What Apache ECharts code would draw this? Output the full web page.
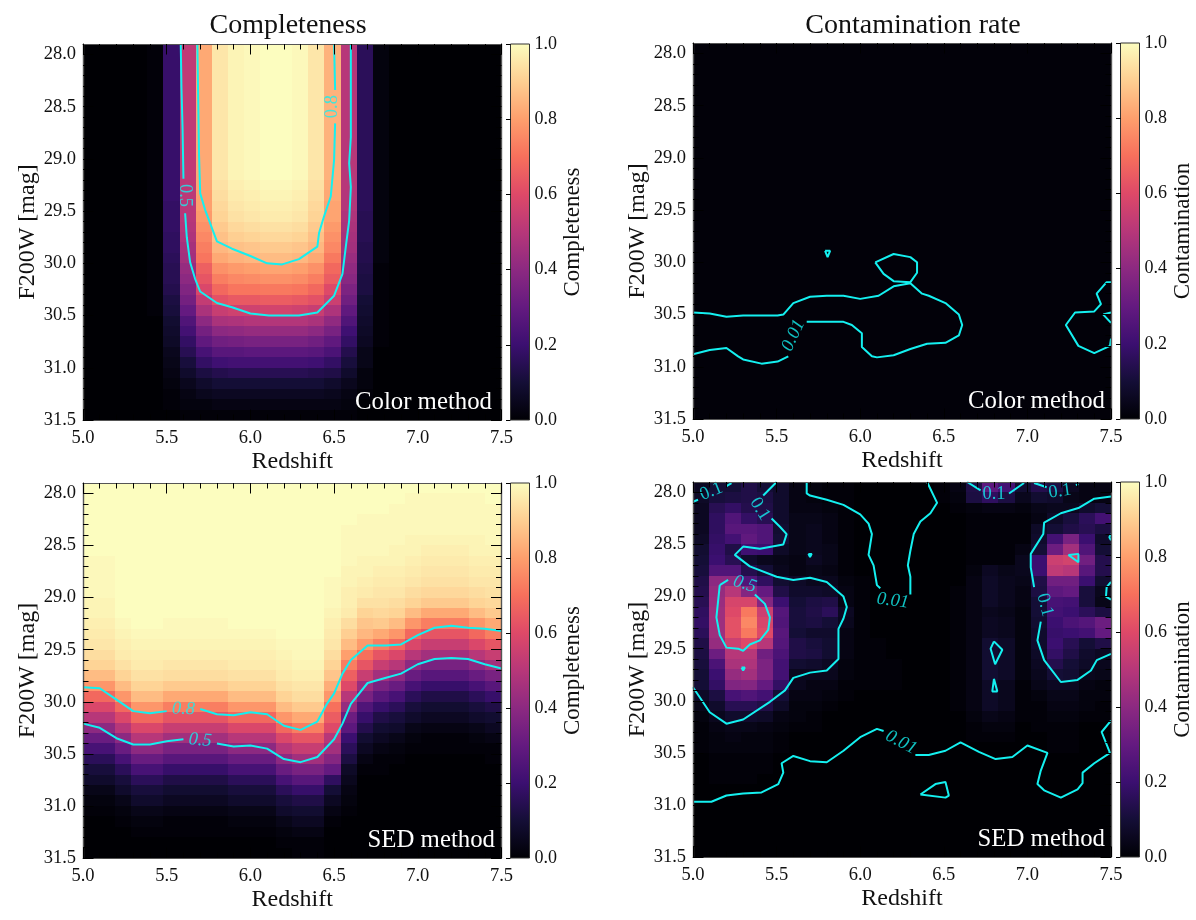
<!DOCTYPE html>
<html>
<head>
<meta charset="utf-8">
<title>Completeness and contamination</title>
<script src="https://cdn.jsdelivr.net/npm/echarts@6/dist/echarts.min.js"></script>
<style>
html, body { margin: 0; background: #fff; }
#chart { width: 1196px; height: 920px; }
</style>
</head>
<body>
<div id="chart"></div>
<script>
// cell centres of the redshift / magnitude grid
const redshiftCells = [5.0,5.1,5.2,5.3,5.4,5.5,5.6,5.7,5.8,5.9,6.0,6.1,6.2,6.3,6.4,6.5,6.6,6.7,6.8,6.9,7.0,7.1,7.2,7.3,7.4,7.5];
const magCells = [27.9,28.0,28.1,28.2,28.3,28.4,28.5,28.6,28.7,28.8,28.9,29.0,29.1,29.2,29.3,29.4,29.5,29.6,29.7,29.8,29.9,30.0,30.1,30.2,30.3,30.4,30.5,30.6,30.7,30.8,30.9,31.0,31.1,31.2,31.3,31.4];
const magMajorTicks = [28.0,28.5,29.0,29.5,30.0,30.5,31.0,31.5];
const magMinorTicks = [28.1,28.2,28.3,28.4,28.6,28.7,28.8,28.9,29.1,29.2,29.3,29.4,29.6,29.7,29.8,29.9,30.1,30.2,30.3,30.4,30.6,30.7,30.8,30.9,31.1,31.2,31.3,31.4];

// percent, one row per magnitude cell (top row first)
const colorCompleteness = [
[0,0,0,0,1,19,52,82,95,98,99,100,100,99,95,84,50,16,2,0,0,0,0,0,0,0],
[0,0,0,0,1,19,52,82,95,98,99,100,100,99,95,84,50,16,2,0,0,0,0,0,0,0],
[0,0,0,0,1,19,52,82,95,98,99,100,100,99,95,84,50,16,2,0,0,0,0,0,0,0],
[0,0,0,0,1,19,52,82,95,98,99,100,100,99,95,84,50,16,2,0,0,0,0,0,0,0],
[0,0,0,0,1,19,52,82,95,98,99,100,100,99,95,84,50,16,2,0,0,0,0,0,0,0],
[0,0,0,0,1,19,52,82,95,98,99,100,100,99,95,84,50,16,2,0,0,0,0,0,0,0],
[0,0,0,0,1,19,52,82,95,98,99,100,100,99,95,84,50,16,2,0,0,0,0,0,0,0],
[0,0,0,0,1,19,52,82,95,98,99,100,100,99,95,84,50,16,2,0,0,0,0,0,0,0],
[0,0,0,0,1,19,52,82,95,98,99,100,100,99,95,84,50,16,2,0,0,0,0,0,0,0],
[0,0,0,0,1,19,52,82,95,98,99,100,100,99,95,84,50,16,2,0,0,0,0,0,0,0],
[0,0,0,0,1,19,52,82,95,98,99,100,100,99,95,84,50,16,2,0,0,0,0,0,0,0],
[0,0,0,0,1,19,52,82,95,98,99,100,100,99,95,84,50,16,2,0,0,0,0,0,0,0],
[0,0,0,0,1,19,52,82,95,98,99,100,100,99,95,84,50,16,2,0,0,0,0,0,0,0],
[0,0,0,0,1,19,51,81,94,97,98,99,99,98,94,83,50,16,2,0,0,0,0,0,0,0],
[0,0,0,0,1,19,51,80,93,96,97,98,98,97,93,82,49,16,2,0,0,0,0,0,0,0],
[0,0,0,0,1,18,50,80,92,95,96,97,97,96,92,81,49,16,2,0,0,0,0,0,0,0],
[0,0,0,0,1,18,50,79,91,94,95,96,96,95,91,81,48,15,2,0,0,0,0,0,0,0],
[0,0,0,0,1,18,49,77,89,92,93,94,94,93,89,79,47,15,2,0,0,0,0,0,0,0],
[0,0,0,0,1,17,48,75,87,90,91,92,92,91,87,77,46,15,2,0,0,0,0,0,0,0],
[0,0,0,0,1,17,46,73,85,87,88,89,89,88,85,75,45,14,2,0,0,0,0,0,0,0],
[0,0,0,0,1,16,45,71,82,84,85,86,86,85,82,72,43,14,2,0,0,0,0,0,0,0],
[0,0,0,0,1,15,42,66,77,79,80,81,81,80,77,68,41,13,1,0,0,0,0,0,0,0],
[0,0,0,0,1,15,40,63,73,75,76,77,77,76,73,65,39,12,1,0,0,0,0,0,0,0],
[0,0,0,0,1,14,37,59,68,71,71,72,72,71,68,60,36,12,1,0,0,0,0,0,0,0],
[0,0,0,0,1,12,34,53,62,64,64,65,65,64,62,55,33,10,1,0,0,0,0,0,0,0],
[0,0,0,0,1,11,30,47,54,56,56,57,57,56,54,48,29,9,1,0,0,0,0,0,0,0],
[0,0,0,0,0,9,25,40,47,48,49,49,49,49,47,41,25,8,1,0,0,0,0,0,0,0],
[0,0,0,0,0,8,22,34,40,41,42,42,42,42,40,35,21,7,1,0,0,0,0,0,0,0],
[0,0,0,0,0,7,18,29,33,34,35,35,35,35,33,29,18,6,1,0,0,0,0,0,0,0],
[0,0,0,0,0,5,15,23,27,27,28,28,28,28,27,24,14,4,0,0,0,0,0,0,0,0],
[0,0,0,0,0,4,11,18,21,22,22,22,22,22,21,18,11,4,0,0,0,0,0,0,0,0],
[0,0,0,0,0,3,8,12,14,15,15,15,15,15,14,13,8,2,0,0,0,0,0,0,0,0],
[0,0,0,0,0,2,5,8,10,10,10,10,10,10,10,8,5,2,0,0,0,0,0,0,0,0],
[0,0,0,0,0,1,3,5,6,6,6,6,6,6,6,5,3,1,0,0,0,0,0,0,0,0],
[0,0,0,0,0,1,2,2,3,3,3,3,3,3,3,3,2,0,0,0,0,0,0,0,0,0],
[0,0,0,0,0,0,1,1,1,1,1,1,1,1,1,1,1,0,0,0,0,0,0,0,0,0]
];

const colorContamination = [
[1,1,1,1,1,1,1,1,1,1,1,1,1,1,1,1,1,1,1,1,1,1,1,1,1,1],
[1,1,1,1,1,1,1,1,1,1,1,1,1,1,1,1,1,1,1,1,1,1,1,1,1,1],
[1,1,1,1,1,1,1,1,1,1,1,1,1,1,1,1,1,1,1,1,1,1,1,1,1,1],
[1,1,1,1,1,1,1,1,1,1,1,1,1,1,1,1,1,1,1,1,1,1,1,1,1,1],
[1,1,1,1,1,1,1,1,1,1,1,1,1,1,1,1,1,1,1,1,1,1,1,1,1,1],
[1,1,1,1,1,1,1,1,1,1,1,1,1,1,1,1,1,1,1,1,1,1,1,1,1,1],
[1,1,1,1,1,1,1,1,1,1,1,1,1,1,1,1,1,1,1,1,1,1,1,1,1,1],
[1,1,1,1,1,1,1,1,1,1,1,1,1,1,1,1,1,1,1,1,1,1,1,1,1,1],
[1,1,1,1,1,1,1,1,1,1,1,1,1,1,1,1,1,1,1,1,1,1,1,1,1,1],
[1,1,1,1,1,1,1,1,1,1,1,1,1,1,1,1,1,1,1,1,1,1,1,1,1,1],
[1,1,1,1,1,1,1,1,1,1,1,1,1,1,1,1,1,1,1,1,1,1,1,1,1,1],
[1,1,1,1,1,1,1,1,1,1,1,1,1,1,1,1,1,1,1,1,1,1,1,1,1,1],
[1,1,1,1,1,1,1,1,1,1,1,1,1,1,1,1,1,1,1,1,1,1,1,1,1,1],
[1,1,1,1,1,1,1,1,1,1,1,1,1,1,1,1,1,1,1,1,1,1,1,1,1,1],
[1,1,1,1,1,1,1,1,1,1,1,1,1,1,1,1,1,1,1,1,1,1,1,1,1,1],
[1,1,1,1,1,1,1,1,1,1,1,1,1,1,1,1,1,1,1,1,1,1,1,1,1,1],
[1,1,1,1,1,1,1,1,1,1,1,1,1,1,1,1,1,1,1,1,1,1,1,1,1,1],
[1,1,1,1,1,1,1,1,1,1,1,1,1,1,1,1,1,1,1,1,1,1,1,1,1,1],
[1,1,1,1,1,1,1,1,1,1,1,1,1,1,1,1,1,1,1,1,1,1,1,1,1,1],
[1,1,1,1,1,1,1,1,1,1,1,1,1,1,1,1,1,1,1,1,1,1,1,1,1,1],
[1,1,1,1,1,1,1,1,1,1,1,1,1,1,1,1,1,1,1,1,1,1,1,1,1,1],
[1,1,1,1,1,1,1,1,1,1,1,1,1,1,1,1,1,1,1,1,1,1,1,1,1,1],
[1,1,1,1,1,1,1,1,1,1,1,1,1,1,1,1,1,1,1,1,1,1,1,1,1,1],
[1,1,1,1,1,1,1,1,1,1,1,1,1,1,1,1,1,1,1,1,1,1,1,1,1,1],
[1,1,1,1,1,1,1,1,1,1,1,1,1,1,1,1,1,1,1,1,1,1,1,1,1,1],
[1,1,1,1,1,1,1,1,1,1,1,1,1,1,1,1,1,1,1,1,1,1,1,1,1,1],
[1,1,1,1,1,1,1,1,1,1,1,1,1,1,1,1,1,1,1,1,1,1,1,1,1,1],
[1,1,1,1,1,1,1,1,1,1,1,1,1,1,1,1,1,1,1,1,1,1,1,1,1,1],
[1,1,1,1,1,1,1,1,1,1,1,1,1,1,1,1,1,1,1,1,1,1,1,1,1,1],
[1,1,1,1,1,1,1,1,1,1,1,1,1,1,1,1,1,1,1,1,1,1,1,1,1,1],
[1,1,1,1,1,1,1,1,1,1,1,1,1,1,1,1,1,1,1,1,1,1,1,1,1,1],
[1,1,1,1,1,1,1,1,1,1,1,1,1,1,1,1,1,1,1,1,1,1,1,1,1,1],
[1,1,1,1,1,1,1,1,1,1,1,1,1,1,1,1,1,1,1,1,1,1,1,1,1,1],
[1,1,1,1,1,1,1,1,1,1,1,1,1,1,1,1,1,1,1,1,1,1,1,1,1,1],
[1,1,1,1,1,1,1,1,1,1,1,1,1,1,1,1,1,1,1,1,1,1,1,1,1,1],
[1,1,1,1,1,1,1,1,1,1,1,1,1,1,1,1,1,1,1,1,1,1,1,1,1,1]
];

// this one is read column by column (one list per redshift cell), top to bottom
const sedCompletenessColumns = [
[100,100,100,100,100,100,100,99,99,99,99,98,98,97,96,95,93,91,86,78,68,59,50,40,31,23,16,11,8,4,2,1,0,0,0,0],
[100,100,100,100,100,100,100,99,99,99,99,98,98,97,96,95,93,91,86,78,68,59,50,40,31,23,16,11,8,4,2,1,0,0,0,0],
[100,100,100,100,100,100,100,100,100,100,100,100,100,99,98,97,96,94,91,86,78,68,59,50,40,31,23,16,11,8,4,2,1,0,0,0],
[100,100,100,100,100,100,100,100,100,100,100,100,100,100,99,98,97,96,94,91,86,78,68,59,50,40,31,23,16,11,8,4,2,1,0,0],
[100,100,100,100,100,100,100,100,100,100,100,100,100,100,99,98,97,96,94,91,86,78,68,59,50,40,31,23,16,11,8,4,2,1,0,0],
[100,100,100,100,100,100,100,100,100,100,100,100,100,99,99,98,97,95,93,89,82,73,63,54,45,35,27,19,13,9,6,3,1,1,0,0],
[100,100,100,100,100,100,100,100,100,100,100,100,100,99,99,98,97,95,93,89,82,73,63,54,45,35,27,19,13,9,6,3,1,1,0,0],
[100,100,100,100,100,100,100,100,100,100,100,100,100,99,99,98,97,95,93,89,82,73,63,54,45,35,27,19,13,9,6,3,1,1,0,0],
[100,100,100,100,100,100,100,100,100,100,100,100,100,99,99,98,97,95,93,89,82,73,63,54,45,35,27,19,13,9,6,3,1,1,0,0],
[100,100,100,100,100,100,100,100,100,100,100,100,100,100,99,98,97,96,94,91,86,78,68,59,50,40,31,23,16,11,8,4,2,1,0,0],
[100,100,100,100,100,100,100,100,100,100,100,100,100,100,99,98,97,96,94,91,86,78,68,59,50,40,31,23,16,11,8,4,2,1,0,0],
[100,100,100,100,100,100,100,100,100,100,100,100,100,100,99,98,97,96,94,91,86,78,68,59,50,40,31,23,16,11,8,4,2,1,0,0],
[100,100,100,100,100,100,100,100,100,100,100,100,100,100,100,99,98,97,96,94,91,86,78,68,59,50,40,31,23,16,11,8,4,2,1,0],
[100,100,100,100,100,100,100,100,100,100,100,100,100,100,100,99,99,98,97,95,93,89,82,73,63,54,45,35,27,19,13,9,6,3,1,1],
[100,100,100,100,100,100,100,100,100,100,100,100,100,100,100,99,99,98,97,95,93,89,82,73,63,54,45,35,27,19,13,9,6,3,1,1],
[100,100,100,100,100,100,100,100,100,99,99,99,98,97,96,95,93,91,88,83,78,70,65,60,50,45,38,30,17,10,6,3,1,0,0,0],
[100,100,100,100,99,99,99,99,98,98,97,97,96,93,90,86,80,73,66,60,50,42,32,28,20,16,12,7,5,3,2,1,0,0,0,0],
[100,100,100,99,99,99,99,98,98,97,96,94,91,88,85,79,70,63,54,43,35,25,19,14,9,6,3,1,0,0,0,0,0,0,0,0],
[100,100,100,99,99,99,99,98,97,96,95,94,92,89,82,73,63,54,45,35,27,19,13,9,6,3,1,1,0,0,0,0,0,0,0,0],
[100,100,99,99,99,99,98,98,97,96,95,93,91,86,78,68,59,50,40,31,23,16,11,8,4,2,1,0,0,0,0,0,0,0,0,0],
[100,99,99,99,99,98,98,97,96,95,93,91,86,78,68,59,50,40,31,23,16,11,8,4,2,1,0,0,0,0,0,0,0,0,0,0],
[100,99,99,99,99,98,97,96,95,94,92,89,82,73,63,54,45,35,27,19,13,9,6,3,1,1,0,0,0,0,0,0,0,0,0,0],
[100,99,99,99,99,98,97,96,95,94,92,89,82,73,63,54,45,35,27,19,13,9,6,3,1,1,0,0,0,0,0,0,0,0,0,0],
[100,99,99,99,99,98,97,96,95,94,92,89,82,73,63,54,45,35,27,19,13,9,6,3,1,1,0,0,0,0,0,0,0,0,0,0],
[100,99,99,99,99,98,98,97,96,95,93,91,86,78,68,59,50,40,31,23,16,11,8,4,2,1,0,0,0,0,0,0,0,0,0,0],
[100,100,99,99,99,99,98,97,96,95,94,92,89,82,73,63,54,45,35,27,19,13,9,6,3,1,1,0,0,0,0,0,0,0,0,0]
];

const sedContamination = [
[6,10,10,13,10,8,3,2,1,1,0,0,0,0,0,1,3,13,28,22,9,14,12,6,3,3],
[7,11,12,13,12,8,3,2,1,1,0,0,0,0,0,1,2,12,17,12,5,9,8,4,3,3],
[6,15,18,14,13,8,3,3,2,1,0,0,0,0,0,0,1,2,3,3,2,4,5,5,8,10],
[6,17,25,18,15,8,4,4,3,1,0,0,0,0,0,0,0,1,1,1,1,3,7,11,16,22],
[6,17,27,27,25,9,4,5,3,1,0,0,0,0,0,0,0,1,1,1,1,7,10,13,15,12],
[7,18,22,29,25,10,4,5,3,1,0,0,0,0,0,0,0,1,1,1,1,8,22,35,20,8],
[9,19,13,21,20,7,4,5,4,1,0,0,0,0,0,0,0,1,1,1,3,10,32,45,25,10],
[10,20,15,8,5,4,3,6,4,1,0,0,0,0,0,0,0,1,1,1,5,20,55,57,33,14],
[11,25,25,14,10,5,3,4,3,1,0,0,0,0,0,0,0,2,6,4,5,20,52,50,27,14],
[13,40,40,25,17,9,7,5,5,2,1,0,0,0,0,0,0,3,7,5,4,13,33,33,20,9],
[14,42,50,38,30,13,8,8,7,3,1,0,0,0,0,0,1,3,7,5,3,12,28,30,11,5],
[15,43,58,58,38,20,10,12,13,3,1,0,0,0,0,0,1,3,7,5,3,10,23,22,11,4],
[17,44,60,72,55,26,11,13,16,6,1,0,0,0,0,0,1,3,5,4,2,10,22,20,16,12],
[18,44,62,75,58,25,11,12,10,5,1,0,0,0,0,0,1,3,6,5,2,9,20,24,26,32],
[16,44,62,72,60,27,10,8,8,3,1,0,0,0,0,0,1,3,6,5,2,8,19,20,22,30],
[13,42,55,60,50,26,13,11,9,3,1,1,0,0,0,0,1,3,9,7,2,8,20,15,10,13],
[12,32,50,50,33,24,13,12,9,3,1,1,0,0,0,0,1,3,9,7,2,7,18,13,8,6],
[11,24,47,48,36,22,9,8,6,2,1,1,1,0,0,0,1,3,9,7,2,6,14,10,7,5],
[10,20,42,45,36,22,5,5,5,2,1,1,1,0,0,0,1,3,9,7,2,5,10,9,5,4],
[10,18,37,38,30,18,5,3,3,1,1,1,1,0,0,0,1,3,7,5,1,4,6,6,3,2],
[7,12,23,25,22,10,3,3,2,1,0,0,0,0,0,0,1,3,7,5,1,2,4,4,2,2],
[4,8,15,15,13,7,2,2,1,0,0,0,0,0,0,0,1,3,7,5,1,1,3,3,2,1],
[2,5,8,8,7,3,2,1,0,0,0,0,0,0,0,0,0,2,4,3,1,1,2,2,1,1],
[1,3,4,4,3,2,1,1,0,0,0,0,0,0,0,0,0,1,2,2,0,1,1,1,0,0],
[1,2,3,2,2,1,0,0,0,0,0,0,0,0,0,0,0,1,1,1,0,0,1,1,0,0],
[1,2,2,2,2,1,0,0,0,0,0,0,0,0,0,0,0,0,0,0,0,0,1,1,0,0],
[0,1,1,1,1,0,0,0,0,0,0,0,0,0,0,0,0,0,0,0,0,0,0,0,0,0],
[0,1,1,1,1,0,0,0,0,0,0,0,0,0,0,0,0,0,0,0,0,0,0,0,0,0],
[0,1,1,1,0,0,0,0,0,0,0,0,0,0,0,0,0,0,0,0,0,0,0,0,0,0],
[0,0,0,0,0,0,0,0,0,0,0,0,0,0,0,0,0,0,0,0,0,0,0,0,0,0],
[0,0,0,0,0,0,0,0,0,0,0,0,0,0,0,0,0,0,0,0,0,0,0,0,0,0],
[0,0,0,0,0,0,0,0,0,0,0,0,0,0,0,0,0,0,0,0,0,0,0,0,0,0],
[0,0,0,0,0,0,0,0,0,0,0,0,0,0,0,0,0,0,0,0,0,0,0,0,0,0],
[0,0,0,0,0,0,0,0,0,0,0,0,0,0,0,0,0,0,0,0,0,0,0,0,0,0],
[0,0,0,0,0,0,0,0,0,0,0,0,0,0,0,0,0,0,0,0,0,0,0,0,0,0],
[0,0,0,0,0,0,0,0,0,0,0,0,0,0,0,0,0,0,0,0,0,0,0,0,0,0]
];

// contour traces [redshift, mag], broken where a label sits
const colorCompletenessContours = [
[[5.584,27.9],[5.588,28.31],[5.595,28.72],[5.60,29.19]],
[[5.61,29.52],[5.62,29.75],[5.64,29.99],[5.67,30.15],[5.70,30.27],[5.80,30.38],[5.89,30.42],[6.0,30.48],[6.11,30.50],[6.29,30.50],[6.40,30.47],[6.50,30.31],[6.55,30.10],[6.57,29.84],[6.59,29.59],[6.60,29.27],[6.59,29.04],[6.60,28.79],[6.60,28.31],[6.60,27.9]],
[[5.683,27.9],[5.687,28.31],[5.693,28.95],[5.70,29.33],[5.73,29.49],[5.80,29.79],[5.89,29.86],[6.0,29.93],[6.10,30.0],[6.19,30.01],[6.29,29.96],[6.40,29.84],[6.41,29.71],[6.44,29.55],[6.48,29.36],[6.50,29.01],[6.506,28.66]],
[[6.506,28.34],[6.50,27.9]]
];
const colorCompletenessLabels = [[5.61,29.35,'0.5'],[6.49,28.5,'0.8']];

const colorContaminationContours = [
[[5.0,30.48],[5.10,30.49],[5.20,30.52],[5.30,30.51],[5.506,30.51],[5.54,30.50],[5.60,30.39],[5.70,30.33],[5.80,30.32],[5.90,30.32],[6.0,30.35],[6.11,30.32],[6.20,30.23],[6.30,30.20],[6.37,30.30],[6.41,30.32],[6.51,30.39],[6.59,30.50],[6.61,30.60],[6.59,30.70],[6.51,30.77],[6.40,30.78],[6.30,30.83],[6.20,30.89],[6.10,30.91],[6.07,30.90],[6.01,30.81],[6.01,30.68],[5.95,30.60],[5.90,30.57],[5.80,30.57],[5.68,30.57]],
[[5.57,30.90],[5.506,30.95],[5.41,30.97],[5.30,30.93],[5.27,30.90],[5.20,30.82],[5.10,30.84],[5.0,30.88]],
[[6.09,30.0],[6.20,29.92],[6.30,29.95],[6.34,30.0],[6.34,30.10],[6.30,30.19],[6.20,30.18],[6.14,30.11],[6.09,30.0]],
[[5.79,29.89],[5.82,29.89],[5.805,29.95],[5.79,29.89]],
[[7.5,30.19],[7.474,30.19],[7.414,30.30],[7.44,30.40],[7.40,30.47],[7.285,30.48],[7.23,30.60],[7.305,30.80],[7.40,30.87],[7.494,30.80],[7.5,30.73]],
[[7.5,30.48],[7.454,30.50],[7.5,30.58]]
];
const colorContaminationLabels = [[5.60,30.70,'0.01']];

const sedCompletenessContours = [
[[5.0,29.86],[5.1,29.87],[5.2,29.98],[5.3,30.09],[5.4,30.11],[5.5,30.09]],
[[5.70,30.07],[5.8,30.12],[5.9,30.13],[6.0,30.10],[6.1,30.12],[6.2,30.23],[6.3,30.27],[6.4,30.19],[6.457,30.02],[6.5,29.92],[6.55,29.73],[6.6,29.60],[6.7,29.46],[6.81,29.46],[6.9,29.45],[7.0,29.36],[7.1,29.29],[7.2,29.27],[7.3,29.29],[7.4,29.30],[7.5,29.32]],
[[5.0,30.21],[5.1,30.25],[5.2,30.35],[5.3,30.41],[5.4,30.41],[5.5,30.38],[5.6,30.36]],
[[5.8,30.40],[5.9,30.43],[6.0,30.42],[6.1,30.45],[6.2,30.55],[6.3,30.58],[6.4,30.53],[6.5,30.36],[6.55,30.21],[6.6,30.02],[6.7,29.82],[6.81,29.77],[6.9,29.73],[7.0,29.64],[7.1,29.59],[7.2,29.58],[7.3,29.59],[7.4,29.64],[7.5,29.68]]
];
const sedCompletenessLabels = [[5.60,30.07,'0.8'],[5.70,30.37,'0.5']];

const sedContaminationContours = [
[[5.0,30.97],[5.11,30.97],[5.20,30.91],[5.30,30.89],[5.41,30.88],[5.51,30.80],[5.54,30.69],[5.53,30.60],[5.60,30.53],[5.70,30.58],[5.80,30.59],[5.90,30.48],[6.0,30.35],[6.10,30.27],[6.14,30.29]],
[[6.33,30.52],[6.41,30.52],[6.51,30.48],[6.60,30.40],[6.71,30.49],[6.81,30.56],[6.91,30.54],[7.0,30.43],[7.12,30.50],[7.08,30.67],[7.06,30.80],[7.10,30.86],[7.20,30.93],[7.30,30.85],[7.33,30.79],[7.33,30.69],[7.40,30.60],[7.494,30.50],[7.444,30.30],[7.5,30.19]],
[[6.36,30.90],[6.45,30.80],[6.51,30.78],[6.53,30.91],[6.51,30.93],[6.36,30.90]],
[[5.68,27.9],[5.68,28.01],[5.70,28.03],[5.80,28.07],[5.90,28.12],[6.0,28.21],[6.05,28.30],[6.07,28.40],[6.05,28.60],[6.08,28.70],[6.10,28.89],[6.12,28.92]],
[[6.30,28.98],[6.30,28.81],[6.285,28.70],[6.30,28.56],[6.32,28.40],[6.36,28.28],[6.42,28.20],[6.46,28.10],[6.40,27.9]],
[[5.0,28.09],[5.03,28.07]],
[[5.20,27.94],[5.23,27.91]],
[[5.50,27.9],[5.42,28.03]],
[[5.47,28.25],[5.52,28.33],[5.56,28.40],[5.54,28.50],[5.40,28.54],[5.30,28.52],[5.25,28.60],[5.34,28.71],[5.50,28.81],[5.60,28.84],[5.70,28.82],[5.80,28.86],[5.90,29.0],[5.92,29.10],[5.90,29.21],[5.87,29.31],[5.87,29.60],[5.80,29.71],[5.70,29.73],[5.60,29.78],[5.55,29.90],[5.46,30.01],[5.30,30.18],[5.20,30.22],[5.10,30.11],[5.0,29.87]],
[[6.64,27.9],[6.72,27.98]],
[[6.89,28.01],[6.98,27.91]],
[[7.04,27.91],[7.115,27.95]],
[[7.29,27.93],[7.305,27.92]],
[[7.5,28.04],[7.40,28.06],[7.305,28.15],[7.20,28.20],[7.10,28.29],[7.095,28.40],[7.02,28.59],[7.02,28.72],[7.04,28.91]],
[[7.08,29.24],[7.06,29.42],[7.10,29.61],[7.20,29.82],[7.30,29.80],[7.38,29.71],[7.415,29.61],[7.5,29.55]],
[[7.5,28.40],[7.49,28.43],[7.5,28.46]],
[[7.5,28.86],[7.474,28.91],[7.47,29.0],[7.5,29.03]],
[[7.245,28.60],[7.305,28.59],[7.305,28.67],[7.245,28.60]],
[[6.80,29.43],[6.85,29.51],[6.807,29.65],[6.78,29.50],[6.80,29.43]],
[[6.80,29.79],[6.82,29.91],[6.79,29.91],[6.80,29.79]],
[[5.69,28.59],[5.71,28.59],[5.70,28.62],[5.69,28.59]],
[[5.29,29.68],[5.31,29.68],[5.30,29.71],[5.29,29.68]],
[[5.16,28.89],[5.21,28.84]],
[[5.37,28.98],[5.43,29.07],[5.46,29.20],[5.45,29.32],[5.40,29.42],[5.34,29.46],[5.30,29.52],[5.27,29.50],[5.20,29.49],[5.16,29.37],[5.14,29.20],[5.16,28.89]]
];
const sedContaminationLabels = [[6.195,29.04,'0.01'],[6.245,30.40,'0.01'],[5.11,27.99,'0.1'],[5.40,28.16,'0.1'],[6.80,28.02,'0.1'],[7.195,27.99,'0.1'],[7.105,29.08,'0.1'],[5.31,28.88,'0.5']];

const magmaStops = ['#000004','#140e36','#3b0f70','#641a80','#8c2981','#b73779','#de4968','#f7705c','#fe9f6d','#fecf92','#fcfdbf'];
const serif = 'Liberation Serif';
const contourColor = '#14f0f0';
const tickColor = '#000';
const spineColor = '#555';

const panels = [
  { box: [83, 44, 418.5, 376], bar: 510.5, barName: 'Completeness', title: 'Completeness', titleX: 283, note: 'Color method', noteX: 487,
    rows: colorCompleteness, contours: colorCompletenessContours, labels: colorCompletenessLabels, angles: [-90, 90], italic: [false, false] },
  { box: [693, 43, 418, 376], bar: 1120.5, barName: 'Contamination', title: 'Contamination rate', titleX: 908, note: 'Color method', noteX: 1100,
    rows: colorContamination, contours: colorContaminationContours, labels: colorContaminationLabels, angles: [65], italic: [true] },
  { box: [83, 483, 418.5, 375], bar: 510.5, barName: 'Completeness', note: 'SED method', noteX: 490,
    columns: sedCompletenessColumns, contours: sedCompletenessContours, labels: sedCompletenessLabels, angles: [-2, -5], italic: [true, true] },
  { box: [693, 482, 418, 375], bar: 1120.5, barName: 'Contamination', note: 'SED method', noteX: 1100,
    rows: sedContamination, contours: sedContaminationContours, labels: sedContaminationLabels,
    angles: [-7, -28, 22, -58, 0, 8, -75, -18], italic: [true, true, false, false, false, false, false, true] }
];

const grids = [], xAxes = [], yAxes = [], series = [], titles = [], heatIndexes = [];
const tickLabel = { fontFamily: serif, fontSize: 18.5, color: '#111' };
const nameStyle = { fontFamily: serif, fontSize: 24, color: '#111' };

function valueX(gridIndex, position, isMain) {
  return {
    type: 'value', gridIndex: gridIndex, position: position, min: 5, max: 7.5, interval: 0.5, z: 5,
    name: isMain ? 'Redshift' : '', nameLocation: 'middle', nameGap: 30, nameTextStyle: nameStyle,
    splitLine: { show: false },
    axisLine: { show: true, onZero: false, lineStyle: { color: spineColor, width: 1.2 } },
    axisTick: { show: true, inside: true, length: 10.5, lineStyle: { color: tickColor, width: 1 } },
    minorTick: { show: true, splitNumber: 5, length: 5.5, lineStyle: { color: tickColor, width: 1 } },
    axisLabel: { show: isMain, margin: 9, formatter: v => v.toFixed(1), ...tickLabel }
  };
}

function valueY(gridIndex, position, ticks, len, isMain) {
  return {
    type: 'value', gridIndex: gridIndex, position: position, min: 27.9, max: 31.5, inverse: true, z: 5,
    name: isMain ? 'F200W [mag]' : '', nameLocation: 'middle', nameGap: 43, nameRotate: 90, nameTextStyle: nameStyle,
    splitLine: { show: false },
    axisLine: { show: true, onZero: false, lineStyle: { color: spineColor, width: 1.2 } },
    axisTick: { show: true, inside: true, length: len, customValues: ticks, lineStyle: { color: tickColor, width: 1 } },
    axisLabel: { show: isMain, margin: 7, customValues: ticks, formatter: v => v.toFixed(1), ...tickLabel }
  };
}

// one rect per cell; edges snapped to whole pixels so neighbours tile without seams
function renderCell(params, api) {
  const centre = api.coord([api.value(0), api.value(1)]);
  const size = api.size([1, 1]);
  const x0 = Math.round(centre[0] - size[0] / 2);
  const x1 = Math.round(centre[0] + size[0] / 2);
  const y0 = Math.round(centre[1] - size[1] / 2);
  const y1 = Math.round(centre[1] + size[1] / 2);
  return {
    type: 'rect',
    shape: { x: x0, y: y0, width: x1 - x0, height: y1 - y0 },
    style: { fill: api.visual('color') }
  };
}

panels.forEach((p) => {
  // image + contour grid
  const g = grids.length;
  grids.push({ left: p.box[0], top: p.box[1], width: p.box[2], height: p.box[3], containLabel: false });

  const xCat = xAxes.length;
  xAxes.push({ type: 'category', gridIndex: g, data: redshiftCells, show: false });
  const xVal = xAxes.length;
  xAxes.push(valueX(g, 'bottom', true));
  xAxes.push(valueX(g, 'top', false));

  const yCat = yAxes.length;
  yAxes.push({ type: 'category', gridIndex: g, data: magCells, inverse: true, show: false });
  const yVal = yAxes.length;
  yAxes.push(valueY(g, 'left', magMajorTicks, 10.5, true));
  yAxes.push(valueY(g, 'left', magMinorTicks, 5.5, false));
  yAxes.push(valueY(g, 'right', magMajorTicks, 10.5, false));
  yAxes.push(valueY(g, 'right', magMinorTicks, 5.5, false));

  const cells = [];
  if (p.rows) {
    p.rows.forEach((row, r) => row.forEach((v, c) => cells.push([c, r, v])));
  } else {
    p.columns.forEach((col, c) => col.forEach((v, r) => cells.push([c, r, v])));
  }
  heatIndexes.push(series.length);
  series.push({
    type: 'custom', xAxisIndex: xCat, yAxisIndex: yCat, data: cells, z: 1, silent: true,
    encode: { x: 0, y: 1 }, renderItem: renderCell, progressive: 0
  });

  p.contours.forEach(trace => {
    series.push({
      type: 'line', xAxisIndex: xVal, yAxisIndex: yVal, data: trace, symbol: 'none', z: 3, silent: true,
      lineStyle: { color: contourColor, width: 2 }
    });
  });

  series.push({
    type: 'scatter', xAxisIndex: xVal, yAxisIndex: yVal, symbolSize: 1, z: 4, silent: true,
    itemStyle: { color: 'rgba(0,0,0,0)' },
    data: p.labels.map((l, k) => ({
      value: [l[0], l[1]],
      label: {
        show: true, position: 'inside', formatter: l[2], rotate: p.angles[k],
        fontFamily: serif, fontSize: 18.5, color: contourColor,
        fontStyle: p.italic[k] ? 'italic' : 'normal', align: 'center', verticalAlign: 'middle'
      }
    }))
  });

  // colour bar
  const b = grids.length;
  grids.push({
    show: true, left: p.bar, top: p.box[1], width: 19, height: p.box[3], borderColor: '#333', borderWidth: 1,
    backgroundColor: {
      type: 'linear', x: 0, y: 1, x2: 0, y2: 0,
      colorStops: magmaStops.map((c, k) => ({ offset: k / 10, color: c }))
    }
  });
  xAxes.push({ type: 'value', gridIndex: b, show: false, min: 0, max: 1 });
  yAxes.push({
    type: 'value', gridIndex: b, position: 'right', min: 0, max: 1, interval: 0.2, z: 5,
    name: p.barName, nameLocation: 'middle', nameGap: 32, nameRotate: 90,
    nameTextStyle: { fontFamily: serif, fontSize: 23, color: '#111' },
    splitLine: { show: false },
    axisLine: { show: false },
    axisTick: { show: true, inside: true, length: 4.5, lineStyle: { color: tickColor, width: 1 } },
    axisLabel: { show: true, margin: 5, formatter: v => v.toFixed(1), fontFamily: serif, fontSize: 18, color: '#111' }
  });

  if (p.title) {
    titles.push({
      text: p.title, left: p.titleX, top: 7, textAlign: 'center',
      textStyle: { fontFamily: serif, fontSize: 28, fontWeight: 'normal', color: '#111' }
    });
  }
  titles.push({
    text: p.note, left: p.noteX, top: p.box[1] + p.box[3] - 35, textAlign: 'right',
    textStyle: { fontFamily: serif, fontSize: 24.8, fontWeight: 'normal', color: '#fff' }
  });
});

const myChart = echarts.init(document.getElementById('chart'), null, { renderer: 'canvas' });
myChart.setOption({
  animation: false,
  backgroundColor: '#fff',
  textStyle: { fontFamily: serif },
  title: titles,
  grid: grids,
  xAxis: xAxes,
  yAxis: yAxes,
  visualMap: {
    show: false, type: 'continuous', min: 0, max: 100, dimension: 2, seriesIndex: heatIndexes,
    inRange: { color: magmaStops }
  },
  series: series
});
</script>
</body>
</html>
